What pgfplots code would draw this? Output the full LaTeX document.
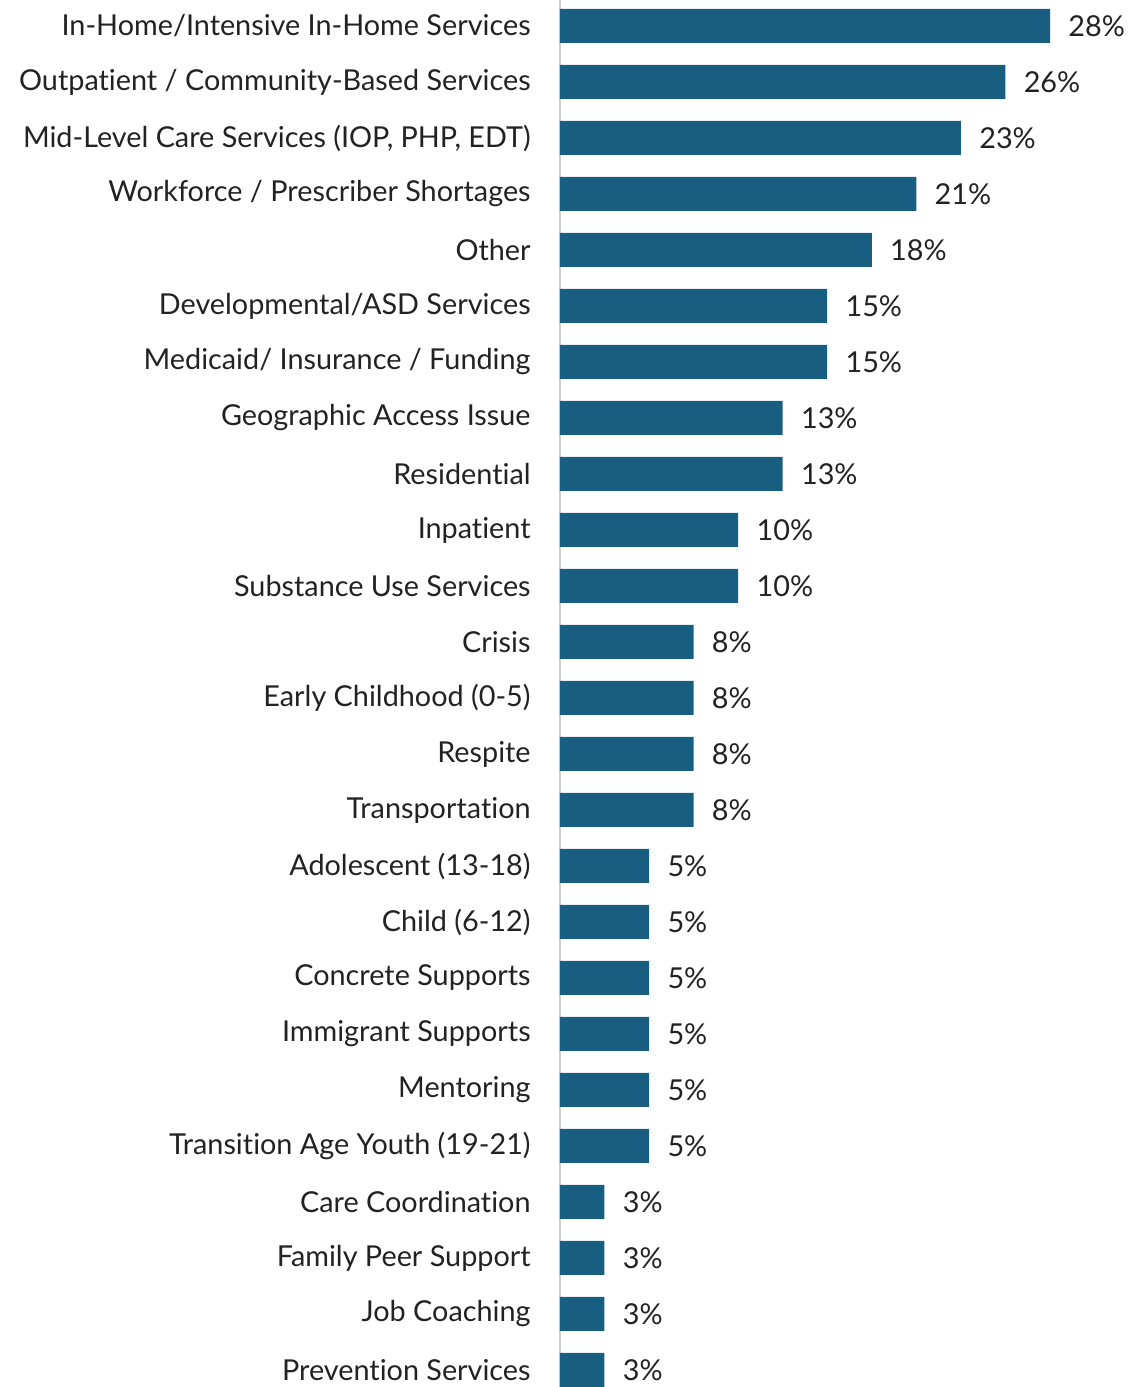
\documentclass[border=0pt]{standalone}
\usepackage{pgfplots}
\pgfplotsset{compat=1.18}
\usepackage{fontspec}
\setmainfont{Lato}[Ligatures=NoCommon]
\definecolor{barc}{HTML}{175E80}
\definecolor{axc}{HTML}{D0D0D0}
\definecolor{txt}{HTML}{222222}
\begin{document}
\begin{tikzpicture}[x=1pt,y=1pt]
\begin{axis}[
  at={(280pt,0pt)}, anchor=south west,
  scale only axis, width=286pt, height=693.5pt,
  xmin=0, xmax=32.93,
  ymin=-0.464, ymax=24.304, y dir=reverse,
  xbar, bar width=17pt, bar shift=0pt,
  axis x line=none, axis y line*=left,
  y axis line style={draw=axc, line width=1pt},
  major tick length=0pt,
  /pgf/number format/assume math mode=true,
  ytick={0,...,24},
  yticklabels={
    In-Home/Intensive In-Home Services,
    Outpatient / Community-Based Services,
    {Mid-Level Care Services (IOP, PHP, EDT)},
    Workforce / Prescriber Shortages,
    Other,
    Developmental/ASD Services,
    Medicaid/ Insurance / Funding,
    Geographic Access Issue,
    Residential,
    Inpatient,
    Substance Use Services,
    Crisis,
    Early Childhood (0-5),
    Respite,
    Transportation,
    Adolescent (13-18),
    Child (6-12),
    Concrete Supports,
    Immigrant Supports,
    Mentoring,
    Transition Age Youth (19-21),
    Care Coordination,
    Family Peer Support,
    Job Coaching,
    Prevention Services},
  yticklabel style={font=\fontsize{14.4}{16}\selectfont, text=txt, inner sep=0pt, xshift=-14.5pt, anchor=east},
  clip=false,
  point meta=x,
  nodes near coords={\pgfmathprintnumber[fixed,precision=0,assume math mode=true]{\pgfplotspointmeta}\%},
  nodes near coords style={anchor=west, inner sep=0pt, xshift=9pt, font=\fontsize{14.4}{16}\selectfont, text=txt},
]
\addplot[fill=barc, draw=none] coordinates {
  (28.21,0) (25.64,1) (23.08,2) (20.51,3) (17.95,4)
  (15.38,5) (15.38,6) (12.82,7) (12.82,8) (10.26,9)
  (10.26,10) (7.69,11) (7.69,12) (7.69,13) (7.69,14)
  (5.13,15) (5.13,16) (5.13,17) (5.13,18) (5.13,19)
  (5.13,20) (2.56,21) (2.56,22) (2.56,23) (2.56,24)
};
\end{axis}
\pgfresetboundingbox
\path[use as bounding box] (0,0) rectangle (566,693.5);
\end{tikzpicture}
\end{document}
